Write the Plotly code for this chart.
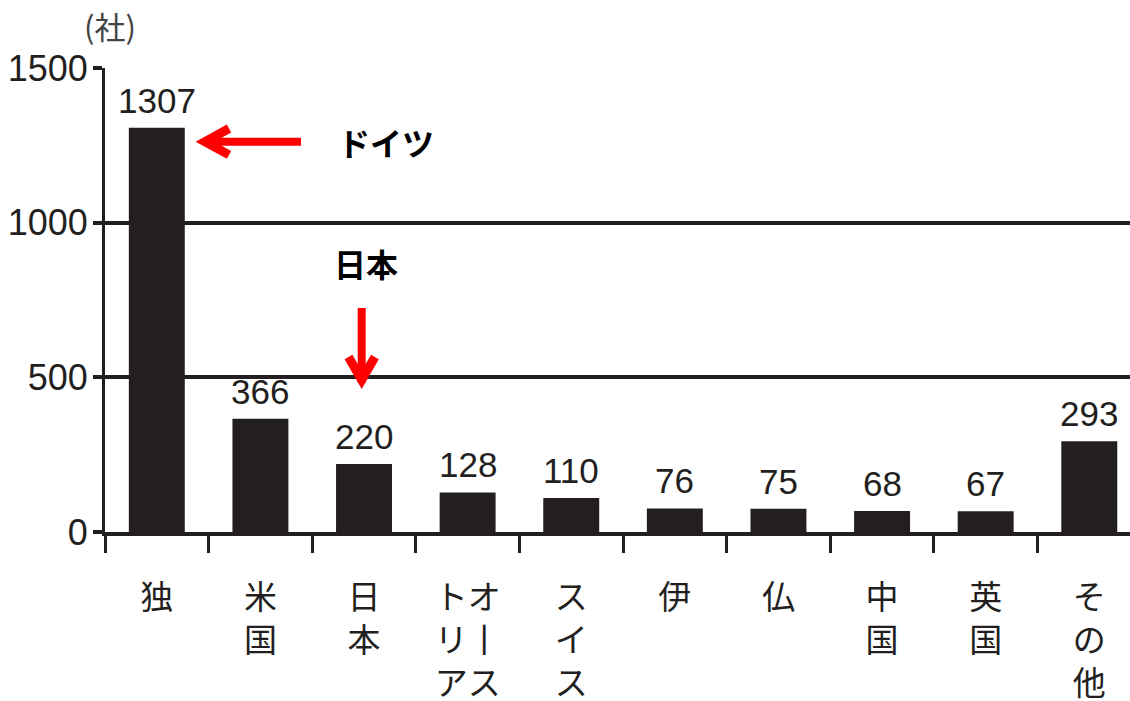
import plotly.graph_objects as go

# 国・地域別の企業数（社）
countries = ["独", "米国", "日本", "オーストリア", "スイス", "伊", "仏", "中国", "英国", "その他"]
tick_rows = ["独", "米<br>国", "日<br>本", "トオ<br>リ丨<br>アス", "ス<br>イ<br>ス",
             "伊", "仏", "中<br>国", "英<br>国", "そ<br>の<br>他"]
companies = [1307, 366, 220, 128, 110, 76, 75, 68, 67, 293]
y_ticks = [0, 500, 1000, 1500]

W, H = 1130, 701
L, R, T, B = 105, 0, 68, 169
INK = "#231f20"
NUM_FONT = "Liberation Sans, Arial, sans-serif"
JP_FONT = "Noto Sans CJK JP, sans-serif"


def px_to_paper(px, py):
    """Convert page pixel position to paper coordinates of the plot area."""
    return (px - L) / (W - L - R), (H - B - py) / (H - T - B)


def paper_path(points):
    """SVG path (paper coordinates) through page pixel points."""
    pts = [px_to_paper(x, y) for x, y in points]
    return "M " + " L ".join(f"{x:.5f},{y:.5f}" for x, y in pts)


fig = go.Figure(
    go.Bar(
        x=countries,
        y=companies,
        width=0.54,
        marker=dict(color=INK, line=dict(width=0)),
        hoverinfo="skip",
    )
)

# value labels above each bar
for c, v in zip(countries, companies):
    fig.add_annotation(
        x=c, y=v, xref="x", yref="y", text=str(v), showarrow=False,
        yanchor="bottom", yshift=6,
        font=dict(family=NUM_FONT, size=35, color=INK),
    )

# unit label
ux, uy = px_to_paper(110, 25)
fig.add_annotation(
    x=ux, y=uy, xref="paper", yref="paper", text="(社)", showarrow=False,
    xanchor="center", yanchor="middle",
    font=dict(family=JP_FONT, size=31, color="#444"),
)

# callouts
gx, gy = px_to_paper(386, 142)
fig.add_annotation(
    x=gx, y=gy, xref="paper", yref="paper", text="<b>ドイツ</b>", showarrow=False,
    xanchor="center", yanchor="middle",
    font=dict(family=JP_FONT, size=32, color="black"),
)
jx, jy = px_to_paper(366, 263)
fig.add_annotation(
    x=jx, y=jy, xref="paper", yref="paper", text="<b>日本</b>", showarrow=False,
    xanchor="center", yanchor="middle",
    font=dict(family=JP_FONT, size=32, color="black"),
)

# red arrows: shaft + chevron head
RED = "#ff0000"
arrow_parts = [
    ([(301, 141.7), (203, 141.7)], 8),                      # ドイツ shaft
    ([(229, 128.5), (205, 141.7), (229, 154.9)], 9),         # ドイツ head
    ([(361.7, 308), (361.7, 383)], 8),                       # 日本 shaft
    ([(348.5, 357), (361.7, 380), (374.9, 357)], 9),         # 日本 head
]
for pts, w in arrow_parts:
    fig.add_shape(
        type="path", xref="paper", yref="paper", path=paper_path(pts),
        line=dict(color=RED, width=w), fillcolor="rgba(0,0,0,0)",
        layer="above",
    )

fig.update_layout(
    width=W, height=H,
    margin=dict(l=L, r=R, t=T, b=B, pad=0),
    paper_bgcolor="white", plot_bgcolor="white",
    showlegend=False,
    xaxis=dict(
        type="category",
        range=[-0.5, 9.393],
        tickmode="array", tickvals=countries, ticktext=tick_rows,
        tickson="boundaries",
        ticks="outside", ticklen=17, tickwidth=3, tickcolor=INK,
        showline=True, linewidth=3.5, linecolor=INK,
        showgrid=False, zeroline=False,
        tickfont=dict(family=JP_FONT, size=33, color=INK),
        tickangle=0, automargin=False, ticklabelstandoff=34,
    ),
    yaxis=dict(
        range=[0, 1500],
        tickmode="array", tickvals=y_ticks,
        ticks="outside", ticklen=9, tickwidth=3.5, tickcolor=INK,
        showline=True, linewidth=3, linecolor=INK,
        showgrid=True, gridcolor=INK, gridwidth=3.5,
        zeroline=False, automargin=False, ticklabelstandoff=-2,
        tickfont=dict(family=NUM_FONT, size=36, color=INK),
    ),
)

fig.write_html("out.html")
